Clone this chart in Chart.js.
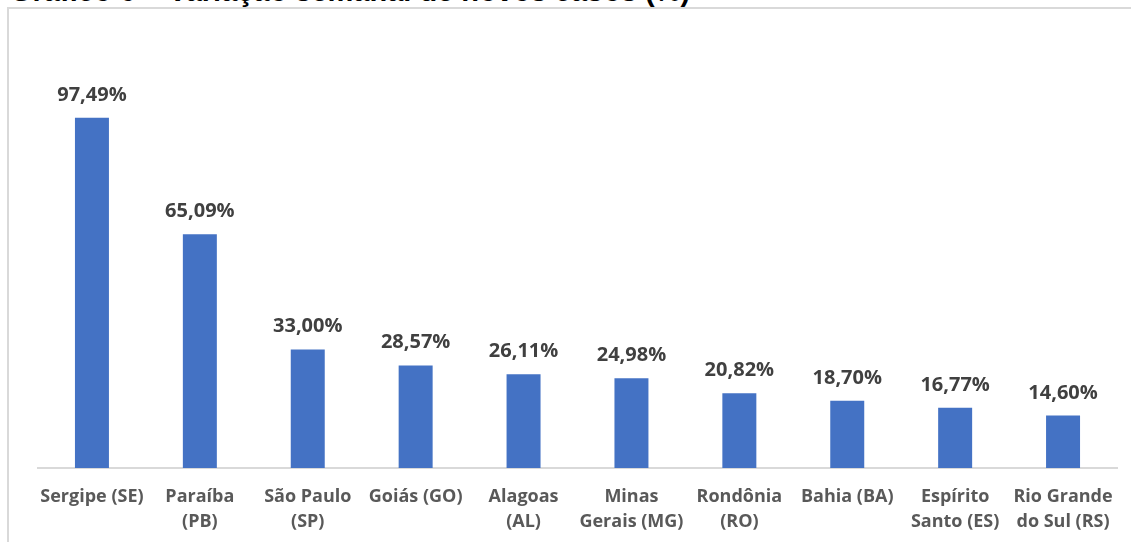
<!DOCTYPE html>
<html>
<head>
<meta charset="utf-8">
<script src="https://cdn.jsdelivr.net/npm/chart.js@4"></script>
<style>
  html, body { margin: 0; padding: 0; background: #fff; overflow: hidden; }
  body { width: 1131px; height: 542px; position: relative; }
  #title {
    position: absolute; left: 10px; top: -25px;
    font: bold 29px "Liberation Sans", Arial, sans-serif; color: #000;
    white-space: nowrap;
  }
  #frame {
    position: absolute; left: 7px; top: 7px; width: 1140px; height: 560px;
    border: 2px solid #d9d9d9; box-sizing: border-box;
  }
  #wrap { position: absolute; left: 0; top: 0; width: 1131px; height: 542px; }
</style>
</head>
<body>
<div id="title">Gráfico 6 – Variação semanal de novos casos (%)</div>
<div id="frame"></div>
<div id="wrap"><canvas id="chart"></canvas></div>
<script>
const estados = [
  "Sergipe (SE)", ["Paraíba", "(PB)"], ["São Paulo", "(SP)"], "Goiás (GO)",
  ["Alagoas", "(AL)"], ["Minas", "Gerais (MG)"], ["Rondônia", "(RO)"],
  "Bahia (BA)", ["Espírito", "Santo (ES)"], ["Rio Grande", "do Sul (RS)"]
];
const variacao = [97.49, 65.09, 33.00, 28.57, 26.11, 24.98, 20.82, 18.70, 16.77, 14.60];

function fmtPct(v) {
  return v.toFixed(2).replace(".", ",") + "%";
}

const valueLabels = {
  id: "valueLabels",
  afterDatasetsDraw(chart) {
    const ctx = chart.ctx;
    const meta = chart.getDatasetMeta(0);
    ctx.save();
    ctx.font = "bold 20px 'Open Sans', sans-serif";
    ctx.fillStyle = "#404040";
    ctx.textAlign = "center";
    ctx.textBaseline = "alphabetic";
    meta.data.forEach((bar, i) => {
      ctx.fillText(fmtPct(variacao[i]), bar.x, bar.y - 17);
    });
    ctx.restore();
  }
};

const ctx = document.getElementById("chart").getContext("2d");
new Chart(ctx, {
  type: "bar",
  data: {
    labels: estados,
    datasets: [{
      data: variacao,
      backgroundColor: "#4472c4",
      borderWidth: 0,
      barPercentage: 0.63,
      categoryPercentage: 0.5
    }]
  },
  options: {
    responsive: true,
    maintainAspectRatio: false,
    animation: false,
    layout: { padding: { left: 38, right: 14, top: 37, bottom: 0 } },
    plugins: {
      legend: { display: false },
      tooltip: { enabled: false }
    },
    scales: {
      y: { display: false, min: 0, max: 120 },
      x: {
        grid: { display: false, drawTicks: false },
        border: { display: true, color: "#d9d9d9", width: 2 },
        ticks: {
          color: "#595959",
          font: { family: "'Open Sans', sans-serif", weight: "bold", size: 18, lineHeight: 1.4 },
          padding: 16,
          maxRotation: 0,
          autoSkip: false
        },
        afterFit(scale) { scale.height = 74; }
      }
    }
  },
  plugins: [valueLabels]
});
</script>
</body>
</html>
